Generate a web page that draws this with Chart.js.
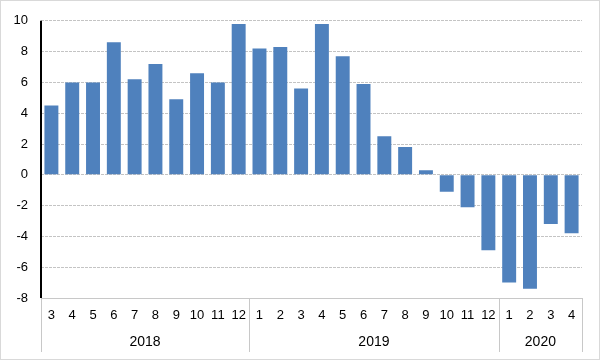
<!DOCTYPE html>
<html>
<head>
<meta charset="utf-8">
<script src="https://cdn.jsdelivr.net/npm/chart.js@4"></script>
<style>
  html, body { margin: 0; padding: 0; background: #fff; }
  #wrap { width: 601px; height: 361px; position: relative; }
</style>
</head>
<body>
<div id="wrap"><canvas id="c"></canvas></div>
<script>
// Data
const months = ['3','4','5','6','7','8','9','10','11','12',
                '1','2','3','4','5','6','7','8','9','10','11','12',
                '1','2','3','4'];
const years = ['2018', '2019', '2020'];
const yearCounts = [10, 12, 4];
const values = [4.5, 6.0, 6.0, 8.6, 6.2, 7.2, 4.9, 6.6, 6.0, 9.8,
                8.2, 8.3, 5.6, 9.8, 7.7, 5.9, 2.5, 1.8, 0.3, -1.1, -2.1, -4.9,
                -7.0, -7.4, -3.2, -3.8];
const yTicks = [-8, -6, -4, -2, 0, 2, 4, 6, 8, 10];

const FONT = 'Arial, "Liberation Sans", sans-serif';

const groupPlugin = {
  id: 'groups',
  afterDraw(chart) {
    const ctx = chart.ctx;
    const xs = chart.scales.x;
    const ys = chart.scales.y;
    const half = (xs.getPixelForValue(1) - xs.getPixelForValue(0)) / 2;
    const top = xs.top;
    ctx.save();
    // solid black value axis
    ctx.strokeStyle = '#000';
    ctx.lineWidth = 2;
    ctx.setLineDash([]);
    ctx.beginPath();
    ctx.moveTo(xs.left, ys.top);
    ctx.lineTo(xs.left, ys.bottom);
    ctx.stroke();
    ctx.strokeStyle = '#c8c8c8';
    ctx.lineWidth = 1;
    let start = 0;
    const bounds = [];
    years.forEach((y, i) => {
      const end = start + yearCounts[i] - 1;
      const x0 = xs.getPixelForValue(start) - half;
      const x1 = xs.getPixelForValue(end) + half;
      bounds.push(x0, x1);
      ctx.fillStyle = '#000';
      ctx.font = '14px ' + FONT;
      ctx.textAlign = 'center';
      ctx.textBaseline = 'middle';
      ctx.fillText(y, (x0 + x1) / 2, top + 44);
      start = end + 1;
    });
    const uniq = [...new Set(bounds.map(b => Math.round(b)))];
    uniq.forEach(b => {
      ctx.beginPath();
      ctx.moveTo(b + 0.5, top);
      ctx.lineTo(b + 0.5, top + 54);
      ctx.stroke();
    });
    // outer border
    ctx.strokeStyle = '#d9d9d9';
    ctx.strokeRect(0.5, 0.5, chart.width - 2, chart.height - 2);
    ctx.restore();
  }
};

new Chart(document.getElementById('c'), {
  type: 'bar',
  data: {
    labels: months,
    datasets: [{
      data: values,
      backgroundColor: '#4f81bd',
      borderWidth: 0,
      barPercentage: 0.67,
      categoryPercentage: 1.0
    }]
  },
  options: {
    responsive: true,
    maintainAspectRatio: false,
    animation: false,
    layout: { padding: { top: 19, right: 19, left: 0, bottom: 0 } },
    plugins: { legend: { display: false }, tooltip: { enabled: false } },
    scales: {
      x: {
        grid: { display: false, drawTicks: false },
        border: { display: true, color: '#c8c8c8', width: 1 },
        ticks: {
          color: '#000',
          font: { family: FONT, size: 13 },
          padding: 10,
          maxRotation: 0,
          autoSkip: false
        },
        afterFit(scale) { scale.height = 63; }
      },
      y: {
        min: -8,
        max: 10,
        afterBuildTicks(scale) { scale.ticks = yTicks.map(v => ({ value: v })); },
        grid: { color: '#c4c4c4', drawTicks: false },
        border: { display: false, dash: [3, 1] },
        ticks: {
          color: '#000',
          font: { family: FONT, size: 13 },
          padding: 13
        },
        afterFit(scale) { scale.width = 41; }
      }
    }
  },
  plugins: [groupPlugin]
});
</script>
</body>
</html>
